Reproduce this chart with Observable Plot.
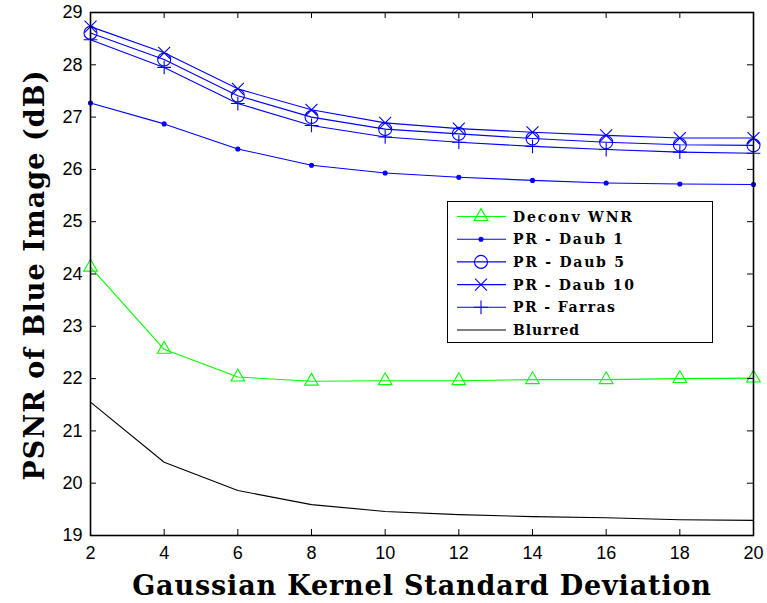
<!DOCTYPE html>
<html><head><meta charset="utf-8">
<script src="https://cdn.jsdelivr.net/npm/d3@7"></script>
<script src="https://cdn.jsdelivr.net/npm/@observablehq/plot@0.6"></script>
<style>
body{margin:0;background:#fff}
#chart{position:relative;width:767px;height:603px}
</style>
</head><body><div id="chart"></div>
<script>
// ---- data ----
const sigma = [2, 4, 6, 8, 10, 12, 14, 16, 18, 20];
const deconvWNR = [24.13, 22.56, 22.03, 21.95, 21.96, 21.96, 21.98, 21.98, 22.00, 22.01];
const daub1     = [27.27, 26.87, 26.39, 26.08, 25.93, 25.85, 25.79, 25.74, 25.72, 25.71];
const daub5     = [28.61, 28.10, 27.41, 27.00, 26.77, 26.68, 26.59, 26.52, 26.47, 26.46];
const daub10    = [28.73, 28.23, 27.54, 27.14, 26.89, 26.78, 26.71, 26.65, 26.60, 26.60];
const farras    = [28.48, 27.95, 27.26, 26.84, 26.62, 26.52, 26.44, 26.38, 26.33, 26.31];
const blurred   = [21.55, 20.40, 19.86, 19.59, 19.46, 19.40, 19.36, 19.34, 19.30, 19.29];
const seriesNames = ["Deconv WNR", "PR - Daub 1", "PR - Daub 5", "PR - Daub 10", "PR - Farras", "Blurred"];
const seriesValues = [deconvWNR, daub1, daub5, daub10, farras, blurred];
const xTicks = [2, 4, 6, 8, 10, 12, 14, 16, 18, 20];
const yTicks = [19, 20, 21, 22, 23, 24, 25, 26, 27, 28, 29];
const xTitle = "Gaussian Kernel Standard Deviation";
const yTitle = "PSNR of Blue Image (dB)";

// ---- styles ----
const styleOf = {
  "Deconv WNR":   {color: "#00ff00", symbol: "triangle2", r: 6.5, fill: "none"},
  "PR - Daub 1":  {color: "#0000ff", symbol: "circle", r: 2, fill: "#0000ff"},
  "PR - Daub 5":  {color: "#0000ff", symbol: "circle", r: 6.5, fill: "none"},
  "PR - Daub 10": {color: "#0000ff", symbol: "times", r: 5.5, fill: "none"},
  "PR - Farras":  {color: "#0000ff", symbol: "plus", r: 4.5, fill: "none"},
  "Blurred":      {color: "#000000", symbol: null}
};
const legendWidths = [119, 110, 111, 121, 102, 66];
const d3sym = {triangle2: d3.symbolTriangle2, circle: d3.symbolCircle, times: d3.symbolTimes, plus: d3.symbolPlus};

const rows = [];
seriesNames.forEach((name, i) => sigma.forEach((s, j) => rows.push({series: name, x: s, y: seriesValues[i][j]})));

const W = 767, H = 603, mL = 90, mR = 14, mT = 12, mB = 68;
const pw = W - mL - mR, ph = H - mT - mB, tk = 6;
const tickFont = "'Liberation Sans', Arial, Helvetica, sans-serif";
const titleFont = "'DejaVu Serif', 'Liberation Serif', serif";

const marks = [];
for (const name of seriesNames) {
  const st = styleOf[name];
  const data = rows.filter(d => d.series === name);
  marks.push(Plot.line(data, {x: "x", y: "y", stroke: st.color, strokeWidth: 1.1}));
  if (st.symbol) marks.push(Plot.dot(data, {x: "x", y: "y", symbol: st.symbol, r: st.r, stroke: st.color, fill: st.fill, strokeWidth: 1.1}));
}
marks.push(
  Plot.tickX(xTicks, {x: d => d, insetTop: ph - tk, stroke: "black"}),
  Plot.tickX(xTicks, {x: d => d, insetBottom: ph - tk, stroke: "black"}),
  Plot.tickY(yTicks, {y: d => d, insetRight: pw - tk, stroke: "black"}),
  Plot.tickY(yTicks, {y: d => d, insetLeft: pw - tk, stroke: "black"}),
  Plot.axisX(xTicks, {tickSize: 0, tickPadding: 11, fontSize: 18, fontFamily: tickFont, label: null, fill: "black", tickFormat: d => String(d)}),
  Plot.axisY(yTicks, {tickSize: 0, tickPadding: 8, fontSize: 18, fontFamily: tickFont, label: null, fill: "black", tickFormat: d => String(d)}),
  Plot.frame({stroke: "black", strokeWidth: 1.6}),
  Plot.text([xTitle], {text: d => d, frameAnchor: "bottom", textAnchor: "middle", dy: 51, lineAnchor: "middle", fontSize: 27, fontWeight: "bold", fontFamily: titleFont, fill: "black"}),
  Plot.text([yTitle], {text: d => d, frameAnchor: "left", textAnchor: "middle", rotate: -90, dx: -55, dy: 1, lineAnchor: "middle", fontSize: 27, fontWeight: "bold", fontFamily: titleFont, fill: "black"})
);

const svg = Plot.plot({
  width: W, height: H,
  marginLeft: mL, marginRight: mR, marginTop: mT, marginBottom: mB,
  style: {background: "white", fontFamily: tickFont, overflow: "visible"},
  x: {domain: [2, 20]},
  y: {domain: [19, 29]},
  marks
});

// legend box
const lg = d3.select(svg).append("g").attr("class", "legend").attr("text-anchor", "start");
lg.append("rect").attr("x", 447.5).attr("y", 201.5).attr("width", 265).attr("height", 141)
  .attr("fill", "white").attr("stroke", "black").attr("stroke-width", 1);
const legendTexts = [];
seriesNames.forEach((name, i) => {
  const st = styleOf[name];
  const y = 216.5 + i * 22.7;
  lg.append("line").attr("x1", 457).attr("x2", 506).attr("y1", y).attr("y2", y)
    .attr("stroke", st.color).attr("stroke-width", 1.1);
  if (st.symbol) {
    lg.append("path").attr("transform", `translate(481,${y})`)
      .attr("d", d3.symbol(d3sym[st.symbol], st.r * st.r * Math.PI)())
      .attr("fill", st.fill).attr("stroke", st.color).attr("stroke-width", 1.1);
  }
  legendTexts.push(lg.append("text").attr("x", 513).attr("y", y + 5).text(name)
    .attr("font-family", titleFont).attr("font-weight", "bold").attr("font-size", 14)
    .attr("fill", "black").attr("text-anchor", "start").node());
});

document.getElementById("chart").appendChild(svg);

function fitSpacing(node, target) {
  const t = node.textContent;
  const L = node.getComputedTextLength();
  node.setAttribute("letter-spacing", ((target - L) / (t.length - 1)).toFixed(2));
}
// fit title widths to the reference via letter spacing
d3.select(svg).selectAll("text").each(function () {
  if (this.textContent === xTitle) fitSpacing(this, 579);
  if (this.textContent === yTitle) fitSpacing(this, 410);
});
legendTexts.forEach((n, i) => fitSpacing(n, legendWidths[i]));
</script>
</body></html>
